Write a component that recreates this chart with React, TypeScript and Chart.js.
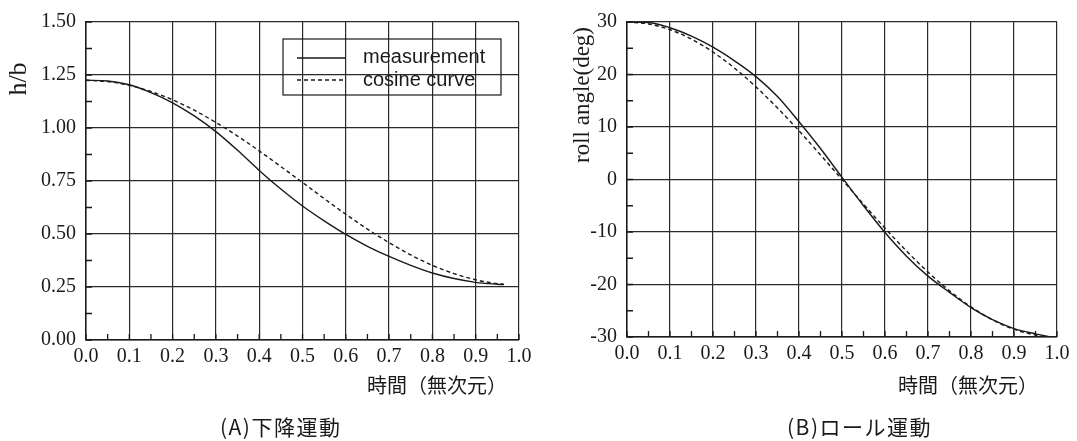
import React, { useEffect, useRef } from "react";
import { Chart, registerables } from "chart.js";

Chart.register(...registerables);

// ---- Data ----
const timeA = [0, 0.05, 0.1, 0.15, 0.2, 0.25, 0.3, 0.35, 0.4, 0.45, 0.5, 0.55, 0.6, 0.65, 0.7, 0.75, 0.8, 0.85, 0.9, 0.95, 0.965];
const measurementA = [1.225, 1.222, 1.204, 1.167, 1.119, 1.057, 0.983, 0.895, 0.8, 0.712, 0.632, 0.562, 0.498, 0.442, 0.394, 0.352, 0.316, 0.29, 0.272, 0.263, 0.261];
const cosineA = [1.225, 1.219, 1.201, 1.172, 1.133, 1.084, 1.026, 0.962, 0.892, 0.818, 0.743, 0.667, 0.593, 0.523, 0.459, 0.401, 0.352, 0.313, 0.284, 0.266, 0.263];

const timeB = [0, 0.05, 0.1, 0.15, 0.2, 0.25, 0.3, 0.35, 0.4, 0.45, 0.5, 0.55, 0.6, 0.65, 0.7, 0.75, 0.8, 0.85, 0.9, 0.95, 0.98];
const measurementB = [30, 29.9, 28.9, 27.3, 25.2, 22.6, 19.6, 15.8, 11.0, 5.9, 0.4, -5.0, -10.1, -14.6, -18.4, -21.5, -24.4, -26.7, -28.4, -29.4, -29.9];
const cosineB = [30, 29.63, 28.53, 26.73, 24.27, 21.21, 17.63, 13.62, 9.27, 4.69, 0, -4.69, -9.27, -13.62, -17.63, -21.21, -24.27, -26.73, -28.53, -29.63, -29.94];

const legendLabels = ["measurement", "cosine curve"];
const xTitle = "時間（無次元）";
const captionA = "(A)下降運動";
const captionB = "(B)ロール運動";
const yTitleA = "h/b";
const yTitleB = "roll angle(deg)";

const SERIF = "'Liberation Serif', 'Times New Roman', serif";
const SANS = "'Liberation Sans', Arial, sans-serif";
const JP = "'Noto Sans CJK JP', sans-serif";
const INK = "#1a1a1a";

type Extra = {
  yTitle: string;
  yTitleSize: number;
  yTitleX: number;
  yTitleY: number;
  caption: string;
  captionX: number;
  xTitleX: number;
  yMinor: number;
  xMinor: number;
  legend: boolean;
};

function makeExtrasPlugin(ex: Extra) {
  return {
    id: "extras",
    afterDraw(chart: any) {
      const ctx = chart.ctx;
      const xs = chart.scales.x;
      const ys = chart.scales.y;
      const area = chart.chartArea;
      ctx.save();
      // minor ticks
      ctx.strokeStyle = INK;
      ctx.lineWidth = 1.3;
      ctx.beginPath();
      for (let v = ys.min; v <= ys.max + 1e-9; v += ex.yMinor) {
        const p = ys.getPixelForValue(v);
        ctx.moveTo(area.left, p);
        ctx.lineTo(area.left + 6, p);
      }
      for (let v = xs.min; v <= xs.max + 1e-9; v += ex.xMinor) {
        const p = xs.getPixelForValue(v);
        ctx.moveTo(p, area.bottom);
        ctx.lineTo(p, area.bottom - 6);
      }
      ctx.stroke();

      // y title
      ctx.fillStyle = INK;
      ctx.font = `${ex.yTitleSize}px ${SERIF}`;
      ctx.textAlign = "center";
      ctx.textBaseline = "middle";
      ctx.save();
      ctx.translate(ex.yTitleX, ex.yTitleY);
      ctx.rotate(-Math.PI / 2);
      ctx.fillText(ex.yTitle, 0, 0);
      ctx.restore();

      // x title
      ctx.font = `20px ${JP}`;
      ctx.textAlign = "left";
      ctx.fillText(xTitle, ex.xTitleX, 385);

      // caption
      ctx.font = `21px ${JP}`;
      ctx.textAlign = "left";
      try {
        (ctx as any).letterSpacing = "1.5px";
      } catch (e) {}
      ctx.fillText(ex.caption, ex.captionX, 427);
      try {
        (ctx as any).letterSpacing = "0px";
      } catch (e) {}

      // legend
      if (ex.legend) {
        ctx.lineWidth = 1.2;
        ctx.strokeRect(283, 39, 218, 56);
        ctx.lineWidth = 1.3;
        ctx.beginPath();
        ctx.moveTo(297, 58);
        ctx.lineTo(346, 58);
        ctx.stroke();
        ctx.setLineDash([4, 3]);
        ctx.beginPath();
        ctx.moveTo(297, 80);
        ctx.lineTo(346, 80);
        ctx.stroke();
        ctx.setLineDash([]);
        ctx.font = `20px ${SANS}`;
        ctx.textAlign = "left";
        ctx.fillText(legendLabels[0], 363, 57);
        ctx.fillText(legendLabels[1], 363, 80);
      }
      ctx.restore();
    },
  };
}

function makeConfig(
  t: number[],
  meas: number[],
  cos: number[],
  yMin: number,
  yMax: number,
  yStep: number,
  yFmt: (v: number) => string,
  yAxisWidth: number,
  pad: { left: number; right: number; top: number; bottom: number },
  extra: Extra
): any {
  return {
    type: "line",
    data: {
      datasets: [
        {
          label: legendLabels[0],
          data: t.map((x, i) => ({ x, y: meas[i] })),
          borderColor: INK,
          borderWidth: 1.4,
          pointRadius: 0,
          cubicInterpolationMode: "monotone",
          fill: false,
        },
        {
          label: legendLabels[1],
          data: t.map((x, i) => ({ x, y: cos[i] })),
          borderColor: INK,
          borderWidth: 1.4,
          borderDash: [4, 3],
          pointRadius: 0,
          cubicInterpolationMode: "monotone",
          fill: false,
        },
      ],
    },
    options: {
      responsive: false,
      animation: false,
      layout: { padding: pad },
      plugins: { legend: { display: false }, tooltip: { enabled: false }, title: { display: false } },
      scales: {
        x: {
          type: "linear",
          min: 0,
          max: 1,
          afterFit: (s: any) => {
            s.height = 30;
          },
          ticks: {
            stepSize: 0.1,
            color: INK,
            font: { family: SERIF, size: 20 },
            padding: 5,
            maxRotation: 0,
            autoSkip: false,
            callback: (v: any) => Number(v).toFixed(1),
          },
          grid: { color: "#2a2a2a", lineWidth: 1.2, drawTicks: false, tickLength: 0 },
          border: { display: true, color: INK, width: 1.5 },
        },
        y: {
          type: "linear",
          min: yMin,
          max: yMax,
          afterFit: (s: any) => {
            s.width = yAxisWidth;
          },
          ticks: {
            stepSize: yStep,
            color: INK,
            font: { family: SERIF, size: 20 },
            padding: 10,
            autoSkip: false,
            callback: (v: any) => yFmt(Number(v)),
          },
          grid: { color: "#2a2a2a", lineWidth: 1.2, drawTicks: false, tickLength: 0 },
          border: { display: true, color: INK, width: 1.5 },
        },
      },
    },
    plugins: [makeExtrasPlugin(extra)],
  };
}

export default function App() {
  const leftRef = useRef<HTMLCanvasElement | null>(null);
  const rightRef = useRef<HTMLCanvasElement | null>(null);

  useEffect(() => {
    const a = new Chart(
      leftRef.current as HTMLCanvasElement,
      makeConfig(
        timeA,
        measurementA,
        cosineA,
        0,
        1.5,
        0.25,
        (v) => v.toFixed(2),
        86,
        { left: 0, right: 21, top: 16, bottom: 71 },
        {
          yTitle: yTitleA,
          yTitleSize: 26,
          yTitleX: 19,
          yTitleY: 79,
          caption: captionA,
          captionX: 220,
          xTitleX: 367,
          yMinor: 0.125,
          xMinor: 0.05,
          legend: true,
        }
      )
    );
    const b = new Chart(
      rightRef.current as HTMLCanvasElement,
      makeConfig(
        timeB,
        measurementB,
        cosineB,
        -30,
        30,
        10,
        (v) => String(Math.round(v)),
        87,
        { left: 0, right: 20, top: 15, bottom: 74 },
        {
          yTitle: yTitleB,
          yTitleSize: 23,
          yTitleX: 43,
          yTitleY: 95,
          caption: captionB,
          captionX: 247,
          xTitleX: 358,
          yMinor: 5,
          xMinor: 0.05,
          legend: false,
        }
      )
    );
    return () => {
      a.destroy();
      b.destroy();
    };
  }, []);

  return (
    <div style={{ position: "fixed", left: 0, top: 0, width: 1077, height: 441, background: "#fff" }}>
      <canvas ref={leftRef} width={540} height={441} style={{ position: "absolute", left: 0, top: 0, width: 540, height: 441 }} />
      <canvas ref={rightRef} width={537} height={441} style={{ position: "absolute", left: 540, top: 0, width: 537, height: 441 }} />
    </div>
  );
}
